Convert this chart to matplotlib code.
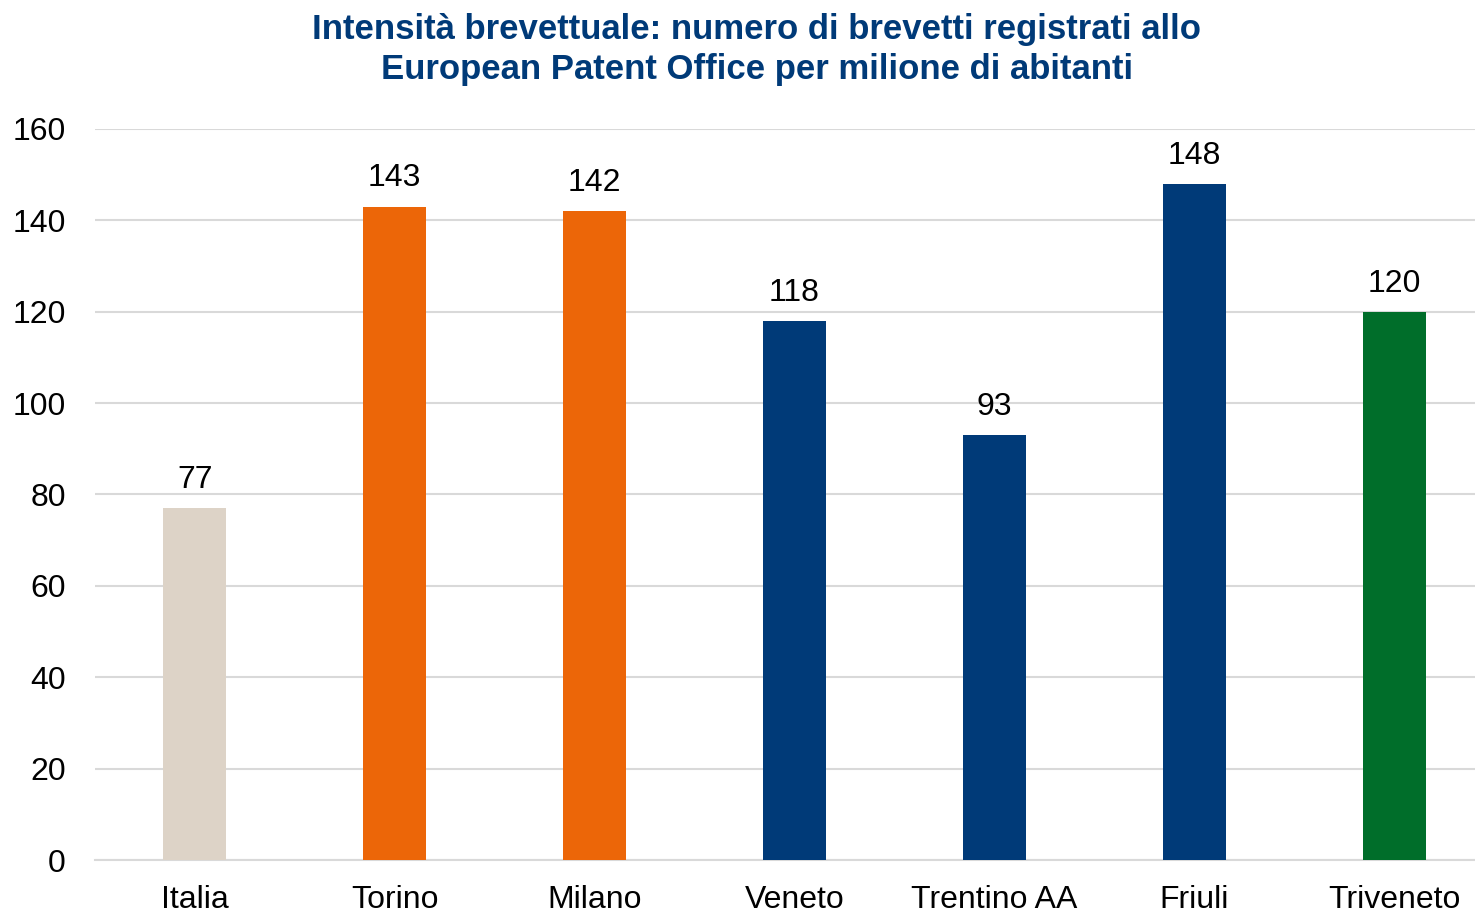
import matplotlib.pyplot as plt

plt.rcParams['font.family'] = ['Liberation Sans', 'DejaVu Sans']

categories = ["Italia", "Torino", "Milano", "Veneto", "Trentino AA", "Friuli", "Triveneto"]
values = [77, 143, 142, 118, 93, 148, 120]
bar_colors = ["#DDD3C7", "#EC6608", "#EC6608", "#003A78", "#003A78", "#003A78", "#006E2A"]
y_ticks = [0, 20, 40, 60, 80, 100, 120, 140, 160]

fig = plt.figure(figsize=(14.75, 9.13), dpi=100)
ax = fig.add_axes([95 / 1475, 53 / 913, 1 - 95 / 1475, 731 / 913])

x = list(range(len(categories)))
ax.bar(x, values, width=0.315, color=bar_colors, zorder=3)

for xi, v in zip(x, values):
    ax.annotate(f"{v}", (xi, v), xytext=(0, 9.5), textcoords="offset points",
                ha="center", va="bottom", fontsize=23, color="black")

ax.set_xlim(-0.5, 6.405)
ax.set_ylim(0, 160)
ax.set_yticks(y_ticks)
ax.set_xticks(x)
ax.set_xticklabels(categories, fontsize=23)
ax.tick_params(axis="y", labelsize=23, length=0, pad=21)
ax.tick_params(axis="x", length=0, pad=18)
ax.grid(axis="y", color="#D9D9D9", linewidth=1.5, zorder=0)
for s in ["top", "right", "left"]:
    ax.spines[s].set_visible(False)
ax.spines["bottom"].set_color("#D9D9D9")
ax.spines["bottom"].set_linewidth(1.5)

fig.text(0.513, 0.986, "Intensità brevettuale: numero di brevetti registrati allo\nEuropean Patent Office per milione di abitanti",
         ha="center", va="top", fontsize=25, fontweight="bold", color="#003A78", linespacing=1.27)

fig.savefig("out.png", dpi=100)
